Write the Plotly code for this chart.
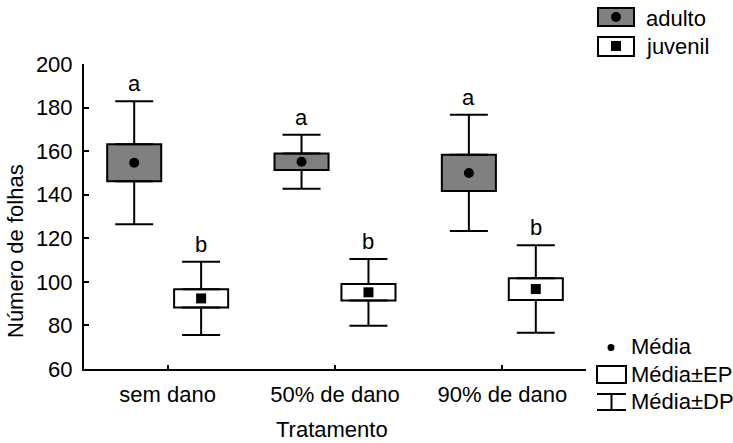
import plotly.graph_objects as go

# Number of leaves per treatment: mean, standard error (EP) and standard deviation (DP)
tratamentos = ["sem dano", "50% de dano", "90% de dano"]

adulto_media = [154.7, 155.1, 150.0]
adulto_ep = [8.5, 3.8, 8.3]
adulto_dp = [28.2, 12.4, 26.7]

juvenil_media = [92.4, 95.2, 96.7]
juvenil_ep = [4.2, 3.8, 5.0]
juvenil_dp = [16.8, 15.3, 20.1]

letras_adulto = ["a", "a", "a"]
letras_juvenil = ["b", "b", "b"]

y_ticks = [60, 80, 100, 120, 140, 160, 180, 200]

FONT = "Liberation Sans, Arial, sans-serif"
FS = 22
W, H = 733, 443
ML, MR, MT, MB = 84, 147, 64, 74

OFFSET = 0.2       # horizontal shift of each group from the category centre
BOX_W = 0.323      # box width in category units
CAP = 19           # half-width of whisker caps (px)

cats = list(range(len(tratamentos)))


def px(x):
    return (x - ML) / (W - ML - MR)


def py(y):
    return (H - MB - y) / (H - MT - MB)


fig = go.Figure()

groups = [
    ("adulto", adulto_media, adulto_ep, adulto_dp, -OFFSET, "#808080", "circle", 10, letras_adulto),
    ("juvenil", juvenil_media, juvenil_ep, juvenil_dp, OFFSET, "#ffffff", "square", 10, letras_juvenil),
]

annotations = []

for name, media, ep, dp, off, fill, symbol, msize, letras in groups:
    xs = [c + off for c in cats]
    # Mean ± EP box
    fig.add_trace(go.Bar(
        x=xs,
        y=[2 * e for e in ep],
        base=[m - e for m, e in zip(media, ep)],
        width=BOX_W,
        marker=dict(color=fill, line=dict(color="black", width=2)),
        showlegend=False, hoverinfo="skip",
    ))
    # Upper whisker: from mean+EP to mean+DP
    fig.add_trace(go.Scatter(
        x=xs, y=[m + e for m, e in zip(media, ep)], mode="markers",
        marker=dict(size=0.1, opacity=0),
        error_y=dict(type="data", symmetric=False,
                     array=[d - e for d, e in zip(dp, ep)],
                     arrayminus=[0] * len(xs),
                     color="black", thickness=2, width=CAP),
        showlegend=False, hoverinfo="skip",
    ))
    # Lower whisker: from mean-EP to mean-DP
    fig.add_trace(go.Scatter(
        x=xs, y=[m - e for m, e in zip(media, ep)], mode="markers",
        marker=dict(size=0.1, opacity=0),
        error_y=dict(type="data", symmetric=False,
                     array=[0] * len(xs),
                     arrayminus=[d - e for d, e in zip(dp, ep)],
                     color="black", thickness=2, width=CAP),
        showlegend=False, hoverinfo="skip",
    ))
    # Mean marker
    fig.add_trace(go.Scatter(
        x=xs, y=media, mode="markers",
        marker=dict(symbol=symbol, size=msize, color="black"),
        showlegend=False, hoverinfo="skip",
    ))
    # Significance letters above the whiskers
    for x, m, d, l in zip(xs, media, dp, letras):
        annotations.append(dict(
            x=x, y=m + d, xref="x", yref="y", text=l, showarrow=False,
            yanchor="bottom", yshift=3, font=dict(family=FONT, size=FS, color="black"),
        ))

shapes = []

# Group key (top right)
shapes.append(dict(type="rect", xref="paper", yref="paper",
                   x0=px(598), x1=px(634), y0=py(26), y1=py(8),
                   fillcolor="#808080", line=dict(color="black", width=2)))
shapes.append(dict(type="circle", xref="paper", yref="paper",
                   x0=px(611), x1=px(621), y0=py(22), y1=py(12),
                   fillcolor="black", line=dict(color="black", width=0)))
shapes.append(dict(type="rect", xref="paper", yref="paper",
                   x0=px(598), x1=px(634), y0=py(56), y1=py(37),
                   fillcolor="white", line=dict(color="black", width=2)))
shapes.append(dict(type="rect", xref="paper", yref="paper",
                   x0=px(611), x1=px(621), y0=py(51), y1=py(41),
                   fillcolor="black", line=dict(color="black", width=0)))
annotations.append(dict(x=px(644), y=py(18), xref="paper", yref="paper", text="adulto",
                        showarrow=False, xanchor="left", yanchor="middle",
                        font=dict(family=FONT, size=FS, color="black")))
annotations.append(dict(x=px(644), y=py(46), xref="paper", yref="paper", text="juvenil",
                        showarrow=False, xanchor="left", yanchor="middle",
                        font=dict(family=FONT, size=FS, color="black")))

# Statistic key (bottom right)
shapes.append(dict(type="circle", xref="paper", yref="paper",
                   x0=px(607.5), x1=px(614.5), y0=py(351), y1=py(344),
                   fillcolor="black", line=dict(color="black", width=0)))
shapes.append(dict(type="rect", xref="paper", yref="paper",
                   x0=px(597), x1=px(626), y0=py(383), y1=py(366),
                   fillcolor="white", line=dict(color="black", width=2)))
for seg in [((597, 394), (626, 394)), ((611.5, 394), (611.5, 410)), ((597, 410), (626, 410))]:
    (xa, ya), (xb, yb) = seg
    shapes.append(dict(type="line", xref="paper", yref="paper",
                       x0=px(xa), x1=px(xb), y0=py(ya), y1=py(yb),
                       line=dict(color="black", width=2)))
for txt, yc in [("Média", 346), ("Média±EP", 374), ("Média±DP", 401)]:
    annotations.append(dict(x=px(629), y=py(yc), xref="paper", yref="paper", text=txt,
                            showarrow=False, xanchor="left", yanchor="middle",
                            font=dict(family=FONT, size=FS, color="black")))

# Axis titles
annotations.append(dict(x=px(16), y=py(251), xref="paper", yref="paper",
                        text="Número de folhas", textangle=-90, showarrow=False,
                        xanchor="center", yanchor="middle",
                        font=dict(family=FONT, size=FS, color="black")))
annotations.append(dict(x=px(332), y=py(429), xref="paper", yref="paper",
                        text="Tratamento", showarrow=False,
                        xanchor="center", yanchor="middle",
                        font=dict(family=FONT, size=FS, color="black")))

fig.update_layout(
    width=W, height=H,
    margin=dict(l=ML, r=MR, t=MT, b=MB, pad=0),
    paper_bgcolor="white", plot_bgcolor="white",
    barmode="overlay", showlegend=False, hovermode=False,
    font=dict(family=FONT, size=FS, color="black"),
    shapes=shapes, annotations=annotations,
    xaxis=dict(
        range=[-0.5, len(tratamentos) - 0.5],
        tickmode="array", tickvals=cats, ticktext=tratamentos,
        ticks="inside", ticklen=4, tickwidth=2, tickcolor="black",
        ticklabelstandoff=5,
        showline=True, linecolor="black", linewidth=2,
        showgrid=False, zeroline=False,
        tickfont=dict(family=FONT, size=FS, color="black"),
    ),
    yaxis=dict(
        range=[60, 200],
        tickmode="array", tickvals=y_ticks,
        ticks="inside", ticklen=5, tickwidth=2, tickcolor="black",
        ticklabelstandoff=5,
        showline=True, linecolor="black", linewidth=2,
        showgrid=False, zeroline=False,
        tickfont=dict(family=FONT, size=FS, color="black"),
    ),
)

fig.write_html("out.html", config={"displayModeBar": False})
